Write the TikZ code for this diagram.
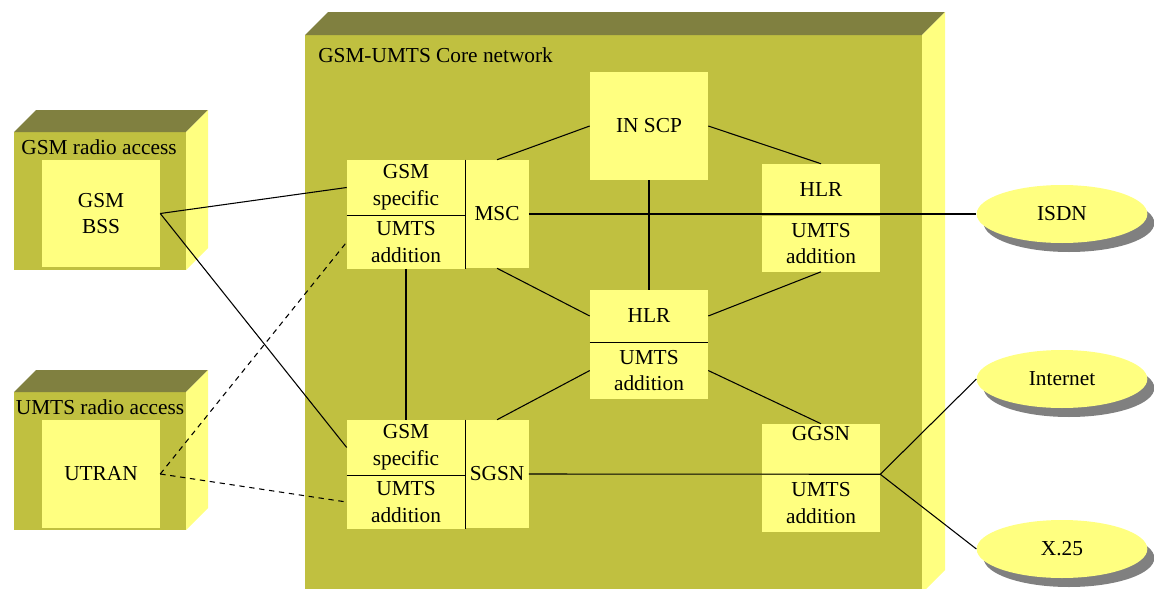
\documentclass[tikz,border=0pt]{standalone}
\usepackage{fontspec}
\setmainfont{Liberation Serif}
\usetikzlibrary{positioning,shapes.geometric}
\definecolor{faceolive}{RGB}{192,192,64}
\definecolor{topolive}{RGB}{128,128,64}
\definecolor{paleyellow}{RGB}{255,255,128}
\definecolor{shadowgray}{RGB}{128,128,128}

\begin{document}
\begin{tikzpicture}[x=0.75pt, y=-0.75pt]
\tikzset{
    unit/.style={rectangle, fill=paleyellow, inner sep=0pt, align=center, font=\fontsize{16}{20}\selectfont},
    half/.style={unit, minimum width=88.5pt},
    cloud/.style={ellipse, fill=paleyellow, inner sep=0pt, minimum width=128pt, minimum height=43.5pt, font=\fontsize{16}{20}\selectfont},
    shade/.style={ellipse, fill=shadowgray, inner sep=0pt, minimum width=128pt, minimum height=43.5pt},
    link/.style={line width=0.8pt},
    radiolink/.style={link, dash pattern=on 4pt off 3.5pt},
    caption/.style={font=\fontsize{16}{20}\selectfont, inner sep=0pt}
}
\useasboundingbox (0,0) rectangle (1154,589);

\foreach \y in {0,260} {
    \fill[faceolive] (14,132+\y) rectangle (186,270+\y);
    \fill[topolive] (14,132+\y) -- (36,110+\y) -- (208,110+\y) -- (186,132+\y) -- cycle;
    \fill[paleyellow] (186,132+\y) -- (208,110+\y) -- (208,248+\y) -- (186,270+\y) -- cycle;
}
\fill[faceolive] (305,35) rectangle (922,593);
\fill[topolive] (305,35) -- (328,12) -- (945,12) -- (922,35) -- cycle;
\fill[paleyellow] (922,35) -- (945,12) -- (945,570) -- (922,593) -- cycle;

\node[caption] (gsmradio) at (99,147) {GSM radio access};
\node[caption] (umtsradio) at (100,407) {UMTS radio access};
\node[caption, anchor=west] (core) at (318,55) {GSM-UMTS Core network};

\node[half, minimum height=80.25pt] (bss) at (101,213.5) {GSM\\BSS};
\node[half, minimum height=81pt] (utran) at (101,474) {UTRAN};
\node[half, minimum height=81pt] (inscp) at (649,126) {IN SCP};

\node[half, minimum height=41.25pt] (mscgsm) at (406,187.5) {GSM\\specific};
\node[half, minimum height=39.75pt, below=0pt of mscgsm] (mscumts) {UMTS\\addition};
\node[unit, minimum width=47.25pt, minimum height=81pt, anchor=north west] (msc) at (mscgsm.north east) {MSC};

\node[half, minimum height=41.25pt] (sgsngsm) at (406,447.5) {GSM\\specific};
\node[half, minimum height=39.75pt, below=0pt of sgsngsm] (sgsnumts) {UMTS\\addition};
\node[unit, minimum width=47.25pt, minimum height=81pt, anchor=north west] (sgsn) at (sgsngsm.north east) {SGSN};

\node[half, minimum height=39pt] (hlrctop) at (649,316) {HLR};
\node[half, minimum height=42pt, below=0pt of hlrctop] (hlrcbot) {UMTS\\addition};

\node[half, minimum height=38.25pt] (hlrrtop) at (821,189.5) {HLR};
\node[half, minimum height=42pt, below=0pt of hlrrtop] (hlrrbot) {UMTS\\addition};

\node[half, minimum height=37.5pt] (ggsntop) at (821,449) {GGSN\\[4pt]};
\node[half, minimum height=42.75pt, below=0pt of ggsntop] (ggsnbot) {UMTS\\addition};

\node[shade] (isdnshade) at (1069,223) {};
\node[cloud] (isdn) at (1062,214) {ISDN};
\node[shade] (internetshade) at (1069,388) {};
\node[cloud] (internet) at (1062,379) {Internet};
\node[shade] (xshade) at (1069,558) {};
\node[cloud] (x25) at (1062,549) {X.25};

\draw[link] (mscgsm.north east) -- (mscumts.south east);
\draw[link] (mscgsm.south west) -- (mscgsm.south east);
\draw[link] (sgsngsm.north east) -- (sgsnumts.south east);
\draw[link] (sgsngsm.south west) -- (sgsngsm.south east);
\draw[link] (hlrctop.south west) -- (hlrctop.south east);

\draw[link] (bss.east) -- (mscgsm.west);
\draw[link] (bss.east) -- (sgsngsm.west);
\draw[radiolink] (utran.east) -- (mscumts.west);
\draw[radiolink] (utran.east) -- (sgsnumts.west);
\draw[link] (mscumts.south) -- (sgsngsm.north);
\draw[link] (msc.north) -- (inscp.west);
\draw[link] (inscp.east) -- (hlrrtop.north);
\draw[link] (msc.south) -- (hlrctop.west);
\draw[link] (hlrrbot.south) -- (hlrctop.east);
\draw[link] (hlrcbot.west) -- (sgsn.north);
\draw[link] (hlrcbot.east) -- (ggsntop.north);
\draw[link] (msc.east) -- (isdn.west);
\draw[link] (inscp.south) -- (hlrctop.north);
\coordinate (split) at (ggsntop.south east);
\draw[link] (sgsn.east) -- (split);
\draw[link] (split) -- (internet.west);
\draw[link] (split) -- (x25.west);
\end{tikzpicture}
\end{document}
